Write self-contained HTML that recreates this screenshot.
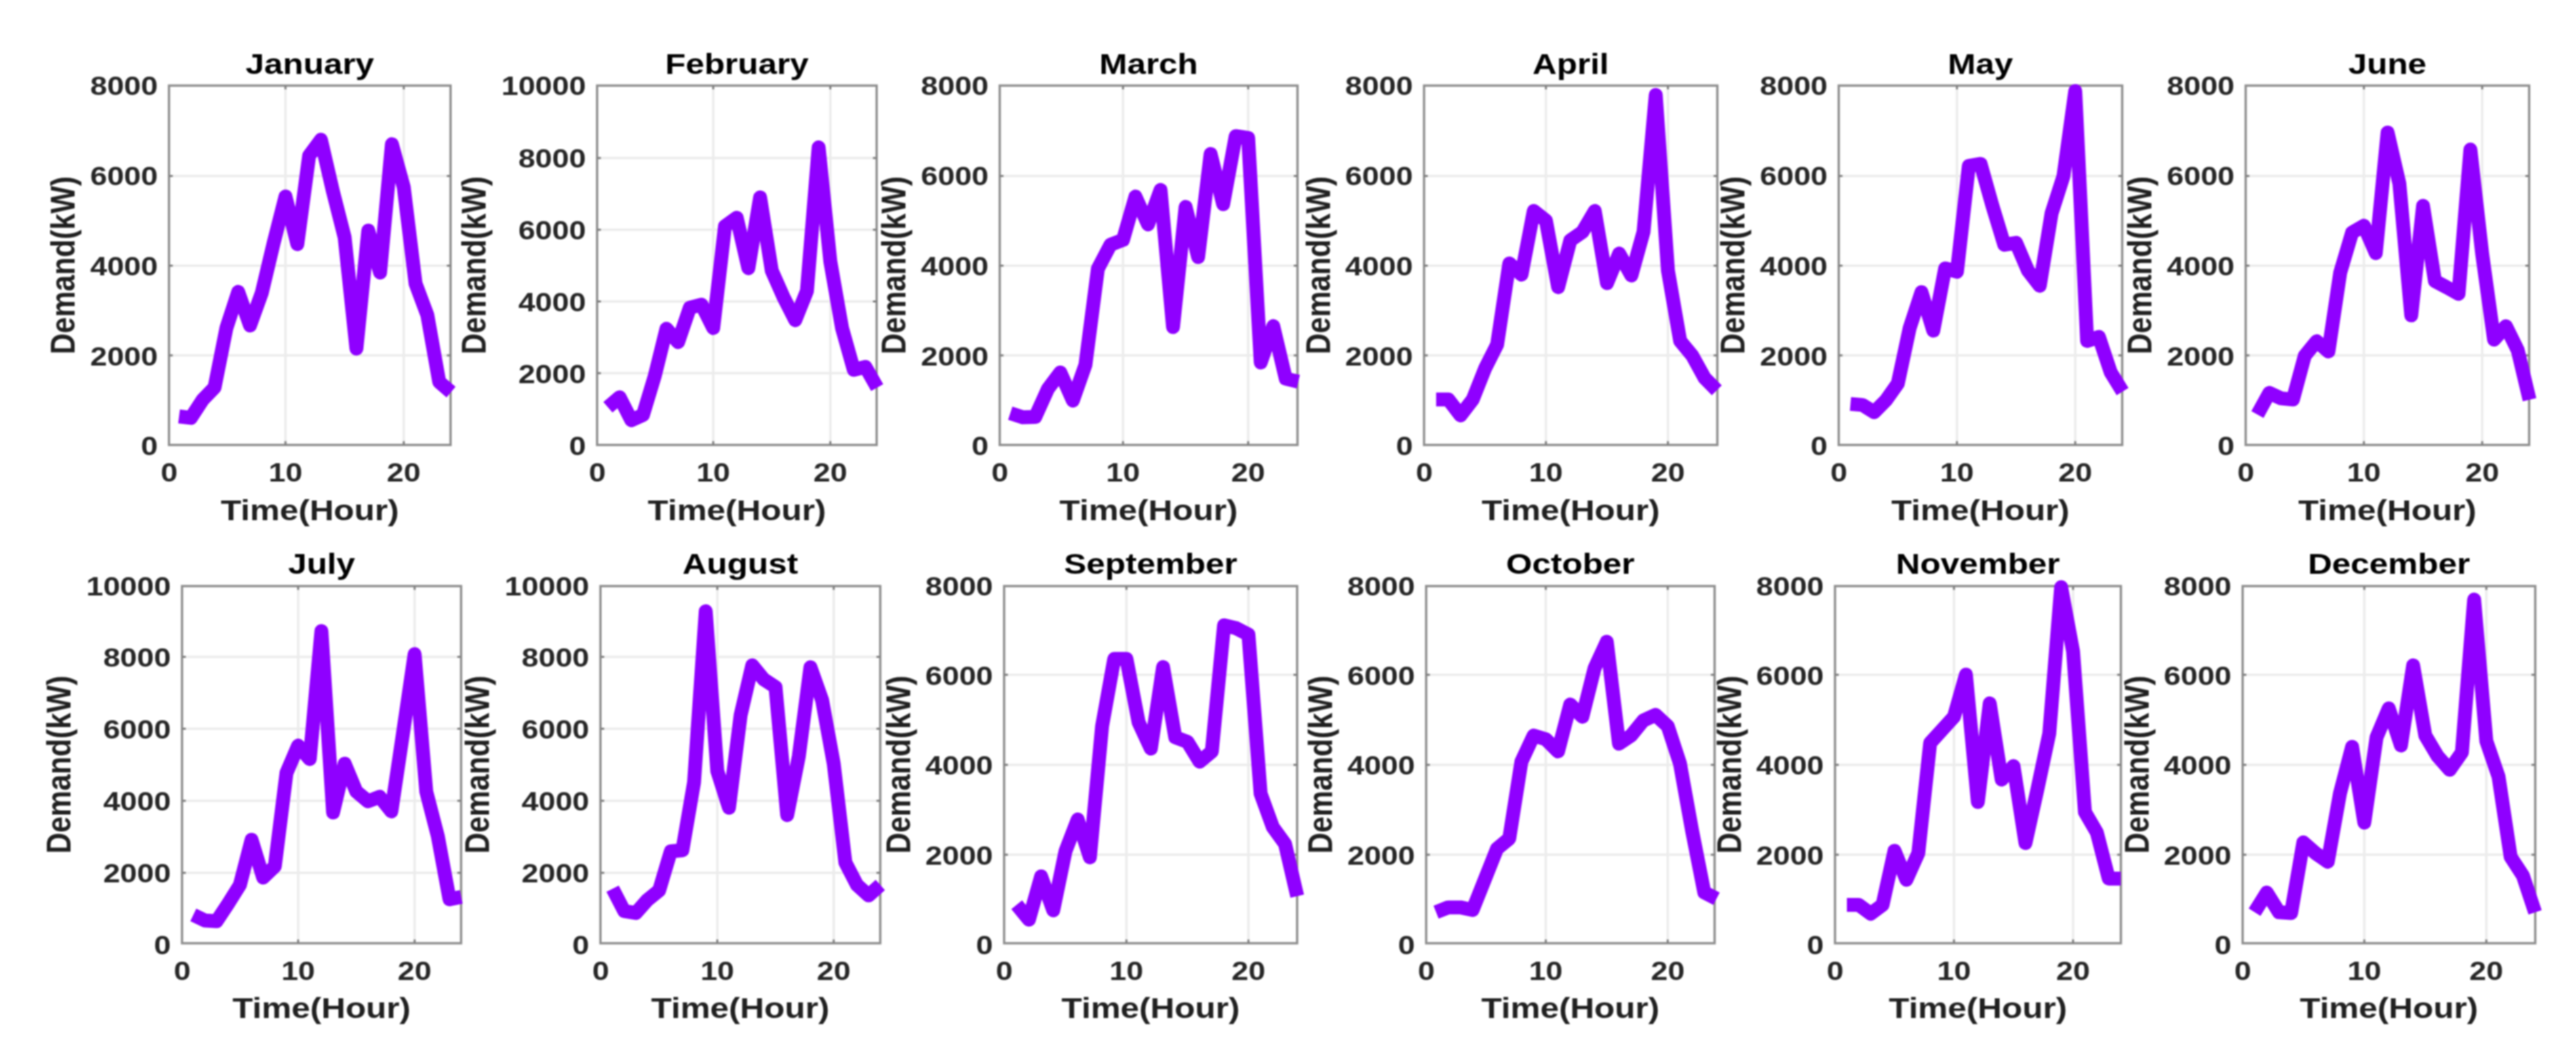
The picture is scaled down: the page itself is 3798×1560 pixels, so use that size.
<!DOCTYPE html>
<html><head><meta charset="utf-8"><title>Monthly demand</title>
<style>
html,body{margin:0;padding:0;background:#fff;}
body{width:3798px;height:1560px;overflow:hidden;}
svg{display:block;filter:blur(0.9px);}
text{font-family:"Liberation Sans",sans-serif;font-weight:bold;}
.tk{font-size:39px;fill:#262626;}
.lb{font-size:43px;fill:#202020;}
.tt{font-size:43px;fill:#000;}
.gr{stroke:#ececec;stroke-width:3.5;fill:none;}
.bx{stroke:#8e8e8e;stroke-width:3.4;fill:none;}
.tm{stroke:#808080;stroke-width:3;fill:none;}
.ln{stroke:#8f00ff;stroke-width:20.5;fill:none;stroke-linejoin:round;stroke-linecap:butt;}
</style></head><body>
<svg width="3798" height="1560" viewBox="0 0 3798 1560">
<rect width="3798" height="1560" fill="#fff"/>
<g><!-- January -->
<path class="gr" d="M420.9 126.2V656.1M595.3 126.2V656.1M249.2 523.9H664.3M249.2 391.7H664.3M249.2 259.5H664.3"/>
<rect class="bx" x="249.2" y="126.2" width="415.1" height="529.9"/>
<path class="tm" d="M420.9 656.1v-5.5M420.9 126.2v5.5M595.3 656.1v-5.5M595.3 126.2v5.5M249.2 523.9h5.5M664.3 523.9h-5.5M249.2 391.7h5.5M664.3 391.7h-5.5M249.2 259.5h5.5M664.3 259.5h-5.5"/>
<polyline class="ln" points="264.0,614.0 281.5,616.2 298.9,589.4 316.3,571.4 333.8,483.8 351.2,430.4 368.6,479.9 386.1,431.4 403.5,358.1 420.9,289.7 438.4,360.0 455.8,229.6 473.2,206.0 490.7,281.5 508.1,349.9 525.5,514.0 543.0,340.0 560.4,401.9 577.8,212.6 595.3,276.0 612.7,418.2 630.1,464.7 647.6,563.2 665.0,578.1"/>
<text class="tk" text-anchor="end" transform="translate(232.7 671.2) scale(1.15 1)">0</text>
<text class="tk" text-anchor="end" transform="translate(232.7 538.5) scale(1.15 1)">2000</text>
<text class="tk" text-anchor="end" transform="translate(232.7 405.8) scale(1.15 1)">4000</text>
<text class="tk" text-anchor="end" transform="translate(232.7 273.1) scale(1.15 1)">6000</text>
<text class="tk" text-anchor="end" transform="translate(232.7 140.4) scale(1.15 1)">8000</text>
<text class="tk" text-anchor="middle" transform="translate(249.5 709.9) scale(1.15 1)">0</text>
<text class="tk" text-anchor="middle" transform="translate(420.9 709.9) scale(1.15 1)">10</text>
<text class="tk" text-anchor="middle" transform="translate(595.3 709.9) scale(1.15 1)">20</text>
<text class="lb" text-anchor="middle" transform="translate(456.8 766.5) scale(1.15 1)">Time(Hour)</text>
<text class="tt" text-anchor="middle" transform="translate(456.8 108.9) scale(1.15 1)">January</text>
<text class="lb" text-anchor="middle" transform="translate(110.2 391.2) scale(1.15 1) rotate(-90)">Demand(kW)</text>
</g>
<g><!-- February -->
<path class="gr" d="M1051.6 126.2V656.1M1224.2 126.2V656.1M880.4 550.3H1292.5M880.4 444.6H1292.5M880.4 338.8H1292.5M880.4 233.1H1292.5"/>
<rect class="bx" x="880.4" y="126.2" width="412.1" height="529.9"/>
<path class="tm" d="M1051.6 656.1v-5.5M1051.6 126.2v5.5M1224.2 656.1v-5.5M1224.2 126.2v5.5M880.4 550.3h5.5M1292.5 550.3h-5.5M880.4 444.6h5.5M1292.5 444.6h-5.5M880.4 338.8h5.5M1292.5 338.8h-5.5M880.4 233.1h5.5M1292.5 233.1h-5.5"/>
<polyline class="ln" points="896.3,600.6 913.5,585.7 930.8,619.6 948.0,611.9 965.3,554.6 982.6,484.8 999.8,504.4 1017.1,453.6 1034.4,449.3 1051.6,483.7 1068.9,333.5 1086.2,321.0 1103.4,395.4 1120.7,291.0 1137.9,399.1 1155.2,438.2 1172.5,472.1 1189.7,429.1 1207.0,217.2 1224.2,385.4 1241.5,483.7 1258.8,545.3 1276.0,541.0 1293.3,571.5"/>
<text class="tk" text-anchor="end" transform="translate(863.9 671.2) scale(1.15 1)">0</text>
<text class="tk" text-anchor="end" transform="translate(863.9 565.0) scale(1.15 1)">2000</text>
<text class="tk" text-anchor="end" transform="translate(863.9 458.9) scale(1.15 1)">4000</text>
<text class="tk" text-anchor="end" transform="translate(863.9 352.7) scale(1.15 1)">6000</text>
<text class="tk" text-anchor="end" transform="translate(863.9 246.6) scale(1.15 1)">8000</text>
<text class="tk" text-anchor="end" transform="translate(863.9 140.4) scale(1.15 1)">10000</text>
<text class="tk" text-anchor="middle" transform="translate(880.7 709.9) scale(1.15 1)">0</text>
<text class="tk" text-anchor="middle" transform="translate(1051.6 709.9) scale(1.15 1)">10</text>
<text class="tk" text-anchor="middle" transform="translate(1224.2 709.9) scale(1.15 1)">20</text>
<text class="lb" text-anchor="middle" transform="translate(1086.5 766.5) scale(1.15 1)">Time(Hour)</text>
<text class="tt" text-anchor="middle" transform="translate(1086.5 108.9) scale(1.15 1)">February</text>
<text class="lb" text-anchor="middle" transform="translate(716.4 391.2) scale(1.15 1) rotate(-90)">Demand(kW)</text>
</g>
<g><!-- March -->
<path class="gr" d="M1655.7 126.2V656.1M1840.3 126.2V656.1M1474.0 523.9H1913.0M1474.0 391.7H1913.0M1474.0 259.5H1913.0"/>
<rect class="bx" x="1474.0" y="126.2" width="439.0" height="529.9"/>
<path class="tm" d="M1655.7 656.1v-5.5M1655.7 126.2v5.5M1840.3 656.1v-5.5M1840.3 126.2v5.5M1474.0 523.9h5.5M1913.0 523.9h-5.5M1474.0 391.7h5.5M1913.0 391.7h-5.5M1474.0 259.5h5.5M1913.0 259.5h-5.5"/>
<polyline class="ln" points="1489.5,609.2 1507.9,615.2 1526.4,614.7 1544.9,573.7 1563.3,549.2 1581.8,590.7 1600.3,538.2 1618.7,396.3 1637.2,360.9 1655.7,353.8 1674.1,289.9 1692.6,330.9 1711.1,280.1 1729.5,482.3 1748.0,305.1 1766.5,379.1 1784.9,227.1 1803.4,301.1 1821.9,200.7 1840.3,203.3 1858.8,534.5 1877.3,480.9 1895.7,558.4 1914.2,562.8"/>
<text class="tk" text-anchor="end" transform="translate(1457.5 671.2) scale(1.15 1)">0</text>
<text class="tk" text-anchor="end" transform="translate(1457.5 538.5) scale(1.15 1)">2000</text>
<text class="tk" text-anchor="end" transform="translate(1457.5 405.8) scale(1.15 1)">4000</text>
<text class="tk" text-anchor="end" transform="translate(1457.5 273.1) scale(1.15 1)">6000</text>
<text class="tk" text-anchor="end" transform="translate(1457.5 140.4) scale(1.15 1)">8000</text>
<text class="tk" text-anchor="middle" transform="translate(1474.3 709.9) scale(1.15 1)">0</text>
<text class="tk" text-anchor="middle" transform="translate(1655.7 709.9) scale(1.15 1)">10</text>
<text class="tk" text-anchor="middle" transform="translate(1840.3 709.9) scale(1.15 1)">20</text>
<text class="lb" text-anchor="middle" transform="translate(1693.5 766.5) scale(1.15 1)">Time(Hour)</text>
<text class="tt" text-anchor="middle" transform="translate(1693.5 108.9) scale(1.15 1)">March</text>
<text class="lb" text-anchor="middle" transform="translate(1335.0 391.2) scale(1.15 1) rotate(-90)">Demand(kW)</text>
</g>
<g><!-- April -->
<path class="gr" d="M2279.3 126.2V656.1M2459.2 126.2V656.1M2099.6 523.9H2532.0M2099.6 391.7H2532.0M2099.6 259.5H2532.0"/>
<rect class="bx" x="2099.6" y="126.2" width="432.4" height="529.9"/>
<path class="tm" d="M2279.3 656.1v-5.5M2279.3 126.2v5.5M2459.2 656.1v-5.5M2459.2 126.2v5.5M2099.6 523.9h5.5M2532.0 523.9h-5.5M2099.6 391.7h5.5M2532.0 391.7h-5.5M2099.6 259.5h5.5M2532.0 259.5h-5.5"/>
<polyline class="ln" points="2117.4,589.0 2135.4,589.0 2153.4,612.5 2171.4,589.0 2189.4,543.7 2207.3,508.2 2225.3,388.4 2243.3,404.9 2261.3,311.1 2279.3,325.4 2297.3,423.4 2315.3,354.3 2333.3,341.8 2351.3,311.1 2369.3,417.5 2387.3,373.9 2405.3,406.2 2423.2,341.8 2441.2,139.9 2459.2,399.0 2477.2,502.7 2495.2,524.6 2513.2,557.3 2531.2,575.5"/>
<text class="tk" text-anchor="end" transform="translate(2083.1 671.2) scale(1.15 1)">0</text>
<text class="tk" text-anchor="end" transform="translate(2083.1 538.5) scale(1.15 1)">2000</text>
<text class="tk" text-anchor="end" transform="translate(2083.1 405.8) scale(1.15 1)">4000</text>
<text class="tk" text-anchor="end" transform="translate(2083.1 273.1) scale(1.15 1)">6000</text>
<text class="tk" text-anchor="end" transform="translate(2083.1 140.4) scale(1.15 1)">8000</text>
<text class="tk" text-anchor="middle" transform="translate(2099.9 709.9) scale(1.15 1)">0</text>
<text class="tk" text-anchor="middle" transform="translate(2279.3 709.9) scale(1.15 1)">10</text>
<text class="tk" text-anchor="middle" transform="translate(2459.2 709.9) scale(1.15 1)">20</text>
<text class="lb" text-anchor="middle" transform="translate(2315.8 766.5) scale(1.15 1)">Time(Hour)</text>
<text class="tt" text-anchor="middle" transform="translate(2315.8 108.9) scale(1.15 1)">April</text>
<text class="lb" text-anchor="middle" transform="translate(1960.6 391.2) scale(1.15 1) rotate(-90)">Demand(kW)</text>
</g>
<g><!-- May -->
<path class="gr" d="M2885.3 126.2V656.1M3059.7 126.2V656.1M2711.0 523.9H3128.9M2711.0 391.7H3128.9M2711.0 259.5H3128.9"/>
<rect class="bx" x="2711.0" y="126.2" width="417.9" height="529.9"/>
<path class="tm" d="M2885.3 656.1v-5.5M2885.3 126.2v5.5M3059.7 656.1v-5.5M3059.7 126.2v5.5M2711.0 523.9h5.5M3128.9 523.9h-5.5M2711.0 391.7h5.5M3128.9 391.7h-5.5M2711.0 259.5h5.5M3128.9 259.5h-5.5"/>
<polyline class="ln" points="2728.3,595.6 2745.8,597.1 2763.2,607.8 2780.7,590.1 2798.1,565.5 2815.6,483.6 2833.0,430.7 2850.4,487.5 2867.9,395.7 2885.3,400.7 2902.8,244.6 2920.2,241.7 2937.6,303.6 2955.1,360.9 2972.5,358.1 2990.0,399.0 3007.4,421.4 3024.8,314.5 3042.3,259.9 3059.7,134.2 3077.2,502.7 3094.6,496.8 3112.1,549.2 3129.5,577.4"/>
<text class="tk" text-anchor="end" transform="translate(2694.5 671.2) scale(1.15 1)">0</text>
<text class="tk" text-anchor="end" transform="translate(2694.5 538.5) scale(1.15 1)">2000</text>
<text class="tk" text-anchor="end" transform="translate(2694.5 405.8) scale(1.15 1)">4000</text>
<text class="tk" text-anchor="end" transform="translate(2694.5 273.1) scale(1.15 1)">6000</text>
<text class="tk" text-anchor="end" transform="translate(2694.5 140.4) scale(1.15 1)">8000</text>
<text class="tk" text-anchor="middle" transform="translate(2711.3 709.9) scale(1.15 1)">0</text>
<text class="tk" text-anchor="middle" transform="translate(2885.3 709.9) scale(1.15 1)">10</text>
<text class="tk" text-anchor="middle" transform="translate(3059.7 709.9) scale(1.15 1)">20</text>
<text class="lb" text-anchor="middle" transform="translate(2919.9 766.5) scale(1.15 1)">Time(Hour)</text>
<text class="tt" text-anchor="middle" transform="translate(2919.9 108.9) scale(1.15 1)">May</text>
<text class="lb" text-anchor="middle" transform="translate(2572.0 391.2) scale(1.15 1) rotate(-90)">Demand(kW)</text>
</g>
<g><!-- June -->
<path class="gr" d="M3485.3 126.2V656.1M3659.7 126.2V656.1M3311.0 523.9H3728.9M3311.0 391.7H3728.9M3311.0 259.5H3728.9"/>
<rect class="bx" x="3311.0" y="126.2" width="417.9" height="529.9"/>
<path class="tm" d="M3485.3 656.1v-5.5M3485.3 126.2v5.5M3659.7 656.1v-5.5M3659.7 126.2v5.5M3311.0 523.9h5.5M3728.9 523.9h-5.5M3311.0 391.7h5.5M3728.9 391.7h-5.5M3311.0 259.5h5.5M3728.9 259.5h-5.5"/>
<polyline class="ln" points="3328.3,611.2 3345.8,579.4 3363.2,587.4 3380.7,589.0 3398.1,524.6 3415.6,503.1 3433.0,518.3 3450.4,401.8 3467.9,342.9 3485.3,332.9 3502.8,373.2 3520.2,195.4 3537.6,270.8 3555.1,465.1 3572.5,303.5 3590.0,414.4 3607.4,423.6 3624.8,433.3 3642.3,220.5 3659.7,374.5 3677.2,500.8 3694.6,480.9 3712.1,516.4 3729.5,589.3"/>
<text class="tk" text-anchor="end" transform="translate(3294.5 671.2) scale(1.15 1)">0</text>
<text class="tk" text-anchor="end" transform="translate(3294.5 538.5) scale(1.15 1)">2000</text>
<text class="tk" text-anchor="end" transform="translate(3294.5 405.8) scale(1.15 1)">4000</text>
<text class="tk" text-anchor="end" transform="translate(3294.5 273.1) scale(1.15 1)">6000</text>
<text class="tk" text-anchor="end" transform="translate(3294.5 140.4) scale(1.15 1)">8000</text>
<text class="tk" text-anchor="middle" transform="translate(3311.3 709.9) scale(1.15 1)">0</text>
<text class="tk" text-anchor="middle" transform="translate(3485.3 709.9) scale(1.15 1)">10</text>
<text class="tk" text-anchor="middle" transform="translate(3659.7 709.9) scale(1.15 1)">20</text>
<text class="lb" text-anchor="middle" transform="translate(3519.9 766.5) scale(1.15 1)">Time(Hour)</text>
<text class="tt" text-anchor="middle" transform="translate(3519.9 108.9) scale(1.15 1)">June</text>
<text class="lb" text-anchor="middle" transform="translate(3172.0 391.2) scale(1.15 1) rotate(-90)">Demand(kW)</text>
</g>
<g><!-- July -->
<path class="gr" d="M439.6 864.2V1390.8M611.3 864.2V1390.8M268.4 1286.9H679.8M268.4 1180.8H679.8M268.4 1074.6H679.8M268.4 968.5H679.8"/>
<rect class="bx" x="268.4" y="864.2" width="411.4" height="526.6"/>
<path class="tm" d="M439.6 1390.8v-5.5M439.6 864.2v5.5M611.3 1390.8v-5.5M611.3 864.2v5.5M268.4 1286.9h5.5M679.8 1286.9h-5.5M268.4 1180.8h5.5M679.8 1180.8h-5.5M268.4 1074.6h5.5M679.8 1074.6h-5.5M268.4 968.5h5.5M679.8 968.5h-5.5"/>
<polyline class="ln" points="285.0,1349.0 302.2,1357.2 319.3,1358.3 336.5,1332.4 353.7,1304.9 370.9,1238.2 388.0,1293.9 405.2,1277.3 422.4,1139.6 439.6,1099.4 456.7,1119.3 473.9,930.4 491.1,1198.0 508.2,1125.9 525.4,1167.2 542.6,1181.5 559.8,1174.9 577.0,1196.4 594.1,1081.8 611.3,964.5 628.5,1167.2 645.6,1233.3 662.8,1326.1 680.0,1322.4"/>
<text class="tk" text-anchor="end" transform="translate(251.9 1406.9) scale(1.15 1)">0</text>
<text class="tk" text-anchor="end" transform="translate(251.9 1301.0) scale(1.15 1)">2000</text>
<text class="tk" text-anchor="end" transform="translate(251.9 1195.1) scale(1.15 1)">4000</text>
<text class="tk" text-anchor="end" transform="translate(251.9 1089.3) scale(1.15 1)">6000</text>
<text class="tk" text-anchor="end" transform="translate(251.9 983.4) scale(1.15 1)">8000</text>
<text class="tk" text-anchor="end" transform="translate(251.9 877.5) scale(1.15 1)">10000</text>
<text class="tk" text-anchor="middle" transform="translate(268.7 1444.6) scale(1.15 1)">0</text>
<text class="tk" text-anchor="middle" transform="translate(439.6 1444.6) scale(1.15 1)">10</text>
<text class="tk" text-anchor="middle" transform="translate(611.3 1444.6) scale(1.15 1)">20</text>
<text class="lb" text-anchor="middle" transform="translate(474.1 1501.2) scale(1.15 1)">Time(Hour)</text>
<text class="tt" text-anchor="middle" transform="translate(474.1 845.9) scale(1.15 1)">July</text>
<text class="lb" text-anchor="middle" transform="translate(104.4 1127.5) scale(1.15 1) rotate(-90)">Demand(kW)</text>
</g>
<g><!-- August -->
<path class="gr" d="M1057.6 864.2V1390.8M1229.2 864.2V1390.8M885.3 1286.9H1297.8M885.3 1180.8H1297.8M885.3 1074.6H1297.8M885.3 968.5H1297.8"/>
<rect class="bx" x="885.3" y="864.2" width="412.5" height="526.6"/>
<path class="tm" d="M1057.6 1390.8v-5.5M1057.6 864.2v5.5M1229.2 1390.8v-5.5M1229.2 864.2v5.5M885.3 1286.9h5.5M1297.8 1286.9h-5.5M885.3 1180.8h5.5M1297.8 1180.8h-5.5M885.3 1074.6h5.5M1297.8 1074.6h-5.5M885.3 968.5h5.5M1297.8 968.5h-5.5"/>
<polyline class="ln" points="903.2,1310.4 920.3,1343.4 937.5,1346.2 954.6,1326.9 971.8,1313.1 989.0,1255.3 1006.1,1253.7 1023.3,1153.4 1040.5,901.2 1057.6,1136.9 1074.8,1190.9 1092.0,1054.3 1109.1,981.0 1126.3,1001.9 1143.4,1013.0 1160.6,1201.9 1177.8,1114.9 1194.9,983.8 1212.1,1032.2 1229.2,1125.9 1246.4,1271.8 1263.6,1304.9 1280.7,1320.3 1297.9,1304.9"/>
<text class="tk" text-anchor="end" transform="translate(868.8 1406.9) scale(1.15 1)">0</text>
<text class="tk" text-anchor="end" transform="translate(868.8 1301.0) scale(1.15 1)">2000</text>
<text class="tk" text-anchor="end" transform="translate(868.8 1195.1) scale(1.15 1)">4000</text>
<text class="tk" text-anchor="end" transform="translate(868.8 1089.3) scale(1.15 1)">6000</text>
<text class="tk" text-anchor="end" transform="translate(868.8 983.4) scale(1.15 1)">8000</text>
<text class="tk" text-anchor="end" transform="translate(868.8 877.5) scale(1.15 1)">10000</text>
<text class="tk" text-anchor="middle" transform="translate(885.6 1444.6) scale(1.15 1)">0</text>
<text class="tk" text-anchor="middle" transform="translate(1057.6 1444.6) scale(1.15 1)">10</text>
<text class="tk" text-anchor="middle" transform="translate(1229.2 1444.6) scale(1.15 1)">20</text>
<text class="lb" text-anchor="middle" transform="translate(1091.5 1501.2) scale(1.15 1)">Time(Hour)</text>
<text class="tt" text-anchor="middle" transform="translate(1091.5 845.9) scale(1.15 1)">August</text>
<text class="lb" text-anchor="middle" transform="translate(721.3 1127.5) scale(1.15 1) rotate(-90)">Demand(kW)</text>
</g>
<g><!-- September -->
<path class="gr" d="M1660.8 864.2V1390.8M1840.7 864.2V1390.8M1480.5 1260.3H1912.5M1480.5 1127.7H1912.5M1480.5 995.0H1912.5"/>
<rect class="bx" x="1480.5" y="864.2" width="432.0" height="526.6"/>
<path class="tm" d="M1660.8 1390.8v-5.5M1660.8 864.2v5.5M1840.7 1390.8v-5.5M1840.7 864.2v5.5M1480.5 1260.3h5.5M1912.5 1260.3h-5.5M1480.5 1127.7h5.5M1912.5 1127.7h-5.5M1480.5 995.0h5.5M1912.5 995.0h-5.5"/>
<polyline class="ln" points="1499.0,1334.0 1517.0,1356.1 1535.0,1292.2 1552.9,1342.3 1570.9,1255.2 1588.9,1208.3 1606.9,1264.1 1624.9,1070.7 1642.8,971.5 1660.8,971.5 1678.8,1065.2 1696.8,1103.8 1714.8,983.6 1732.8,1087.2 1750.8,1093.8 1768.7,1123.1 1786.7,1108.1 1804.7,922.0 1822.7,926.3 1840.7,935.7 1858.6,1169.9 1876.6,1219.4 1894.6,1244.2 1912.6,1321.4"/>
<text class="tk" text-anchor="end" transform="translate(1464.0 1406.9) scale(1.15 1)">0</text>
<text class="tk" text-anchor="end" transform="translate(1464.0 1274.6) scale(1.15 1)">2000</text>
<text class="tk" text-anchor="end" transform="translate(1464.0 1142.2) scale(1.15 1)">4000</text>
<text class="tk" text-anchor="end" transform="translate(1464.0 1009.9) scale(1.15 1)">6000</text>
<text class="tk" text-anchor="end" transform="translate(1464.0 877.5) scale(1.15 1)">8000</text>
<text class="tk" text-anchor="middle" transform="translate(1480.8 1444.6) scale(1.15 1)">0</text>
<text class="tk" text-anchor="middle" transform="translate(1660.8 1444.6) scale(1.15 1)">10</text>
<text class="tk" text-anchor="middle" transform="translate(1840.7 1444.6) scale(1.15 1)">20</text>
<text class="lb" text-anchor="middle" transform="translate(1696.5 1501.2) scale(1.15 1)">Time(Hour)</text>
<text class="tt" text-anchor="middle" transform="translate(1696.5 845.9) scale(1.15 1)">September</text>
<text class="lb" text-anchor="middle" transform="translate(1341.5 1127.5) scale(1.15 1) rotate(-90)">Demand(kW)</text>
</g>
<g><!-- October -->
<path class="gr" d="M2279.1 864.2V1390.8M2458.9 864.2V1390.8M2102.7 1260.3H2528.0M2102.7 1127.7H2528.0M2102.7 995.0H2528.0"/>
<rect class="bx" x="2102.7" y="864.2" width="425.3" height="526.6"/>
<path class="tm" d="M2279.1 1390.8v-5.5M2279.1 864.2v5.5M2458.9 1390.8v-5.5M2458.9 864.2v5.5M2102.7 1260.3h5.5M2528.0 1260.3h-5.5M2102.7 1127.7h5.5M2528.0 1127.7h-5.5M2102.7 995.0h5.5M2528.0 995.0h-5.5"/>
<polyline class="ln" points="2117.3,1345.0 2135.3,1337.9 2153.2,1337.9 2171.2,1341.7 2189.2,1296.6 2207.2,1251.4 2225.2,1236.5 2243.1,1123.1 2261.1,1084.5 2279.1,1090.0 2297.1,1108.1 2315.1,1038.8 2333.0,1056.9 2351.0,985.3 2369.0,946.2 2387.0,1096.6 2404.9,1084.5 2422.9,1062.4 2440.9,1054.1 2458.9,1070.7 2476.9,1125.8 2494.8,1224.9 2512.8,1315.9 2530.8,1325.2"/>
<text class="tk" text-anchor="end" transform="translate(2086.2 1406.9) scale(1.15 1)">0</text>
<text class="tk" text-anchor="end" transform="translate(2086.2 1274.6) scale(1.15 1)">2000</text>
<text class="tk" text-anchor="end" transform="translate(2086.2 1142.2) scale(1.15 1)">4000</text>
<text class="tk" text-anchor="end" transform="translate(2086.2 1009.9) scale(1.15 1)">6000</text>
<text class="tk" text-anchor="end" transform="translate(2086.2 877.5) scale(1.15 1)">8000</text>
<text class="tk" text-anchor="middle" transform="translate(2103.0 1444.6) scale(1.15 1)">0</text>
<text class="tk" text-anchor="middle" transform="translate(2279.1 1444.6) scale(1.15 1)">10</text>
<text class="tk" text-anchor="middle" transform="translate(2458.9 1444.6) scale(1.15 1)">20</text>
<text class="lb" text-anchor="middle" transform="translate(2315.3 1501.2) scale(1.15 1)">Time(Hour)</text>
<text class="tt" text-anchor="middle" transform="translate(2315.3 845.9) scale(1.15 1)">October</text>
<text class="lb" text-anchor="middle" transform="translate(1963.7 1127.5) scale(1.15 1) rotate(-90)">Demand(kW)</text>
</g>
<g><!-- November -->
<path class="gr" d="M2880.9 864.2V1390.8M3056.5 864.2V1390.8M2705.5 1260.3H3127.0M2705.5 1127.7H3127.0M2705.5 995.0H3127.0"/>
<rect class="bx" x="2705.5" y="864.2" width="421.5" height="526.6"/>
<path class="tm" d="M2880.9 1390.8v-5.5M2880.9 864.2v5.5M3056.5 1390.8v-5.5M3056.5 864.2v5.5M2705.5 1260.3h5.5M3127.0 1260.3h-5.5M2705.5 1127.7h5.5M3127.0 1127.7h-5.5M2705.5 995.0h5.5M3127.0 995.0h-5.5"/>
<polyline class="ln" points="2723.0,1334.3 2740.5,1334.3 2758.1,1347.2 2775.6,1334.3 2793.2,1254.4 2810.7,1297.2 2828.3,1258.0 2845.8,1095.5 2863.4,1076.2 2880.9,1056.9 2898.5,994.7 2916.1,1182.6 2933.6,1037.1 2951.2,1149.5 2968.7,1129.6 2986.3,1243.1 3003.8,1164.4 3021.4,1081.7 3038.9,865.7 3056.5,960.5 3074.0,1197.4 3091.6,1227.7 3109.1,1295.5 3126.7,1295.5"/>
<text class="tk" text-anchor="end" transform="translate(2689.0 1406.9) scale(1.15 1)">0</text>
<text class="tk" text-anchor="end" transform="translate(2689.0 1274.6) scale(1.15 1)">2000</text>
<text class="tk" text-anchor="end" transform="translate(2689.0 1142.2) scale(1.15 1)">4000</text>
<text class="tk" text-anchor="end" transform="translate(2689.0 1009.9) scale(1.15 1)">6000</text>
<text class="tk" text-anchor="end" transform="translate(2689.0 877.5) scale(1.15 1)">8000</text>
<text class="tk" text-anchor="middle" transform="translate(2705.8 1444.6) scale(1.15 1)">0</text>
<text class="tk" text-anchor="middle" transform="translate(2880.9 1444.6) scale(1.15 1)">10</text>
<text class="tk" text-anchor="middle" transform="translate(3056.5 1444.6) scale(1.15 1)">20</text>
<text class="lb" text-anchor="middle" transform="translate(2916.2 1501.2) scale(1.15 1)">Time(Hour)</text>
<text class="tt" text-anchor="middle" transform="translate(2916.2 845.9) scale(1.15 1)">November</text>
<text class="lb" text-anchor="middle" transform="translate(2566.5 1127.5) scale(1.15 1) rotate(-90)">Demand(kW)</text>
</g>
<g><!-- December -->
<path class="gr" d="M3485.9 864.2V1390.8M3665.8 864.2V1390.8M3306.5 1260.3H3737.9M3306.5 1127.7H3737.9M3306.5 995.0H3737.9"/>
<rect class="bx" x="3306.5" y="864.2" width="431.4" height="526.6"/>
<path class="tm" d="M3485.9 1390.8v-5.5M3485.9 864.2v5.5M3665.8 1390.8v-5.5M3665.8 864.2v5.5M3306.5 1260.3h5.5M3737.9 1260.3h-5.5M3306.5 1127.7h5.5M3737.9 1127.7h-5.5M3306.5 995.0h5.5M3737.9 995.0h-5.5"/>
<polyline class="ln" points="3324.1,1345.0 3342.1,1316.1 3360.0,1345.0 3378.0,1346.2 3396.0,1242.1 3414.0,1258.0 3432.0,1270.7 3450.0,1169.9 3467.9,1101.2 3485.9,1212.9 3503.9,1087.2 3521.9,1044.5 3539.9,1099.2 3557.9,981.1 3575.8,1084.5 3593.8,1114.8 3611.8,1135.1 3629.8,1109.3 3647.8,884.0 3665.8,1092.7 3683.8,1145.1 3701.7,1263.5 3719.7,1291.1 3737.7,1345.2"/>
<text class="tk" text-anchor="end" transform="translate(3290.0 1406.9) scale(1.15 1)">0</text>
<text class="tk" text-anchor="end" transform="translate(3290.0 1274.6) scale(1.15 1)">2000</text>
<text class="tk" text-anchor="end" transform="translate(3290.0 1142.2) scale(1.15 1)">4000</text>
<text class="tk" text-anchor="end" transform="translate(3290.0 1009.9) scale(1.15 1)">6000</text>
<text class="tk" text-anchor="end" transform="translate(3290.0 877.5) scale(1.15 1)">8000</text>
<text class="tk" text-anchor="middle" transform="translate(3306.8 1444.6) scale(1.15 1)">0</text>
<text class="tk" text-anchor="middle" transform="translate(3485.9 1444.6) scale(1.15 1)">10</text>
<text class="tk" text-anchor="middle" transform="translate(3665.8 1444.6) scale(1.15 1)">20</text>
<text class="lb" text-anchor="middle" transform="translate(3522.2 1501.2) scale(1.15 1)">Time(Hour)</text>
<text class="tt" text-anchor="middle" transform="translate(3522.2 845.9) scale(1.15 1)">December</text>
<text class="lb" text-anchor="middle" transform="translate(3167.5 1127.5) scale(1.15 1) rotate(-90)">Demand(kW)</text>
</g>
</svg></body></html>
